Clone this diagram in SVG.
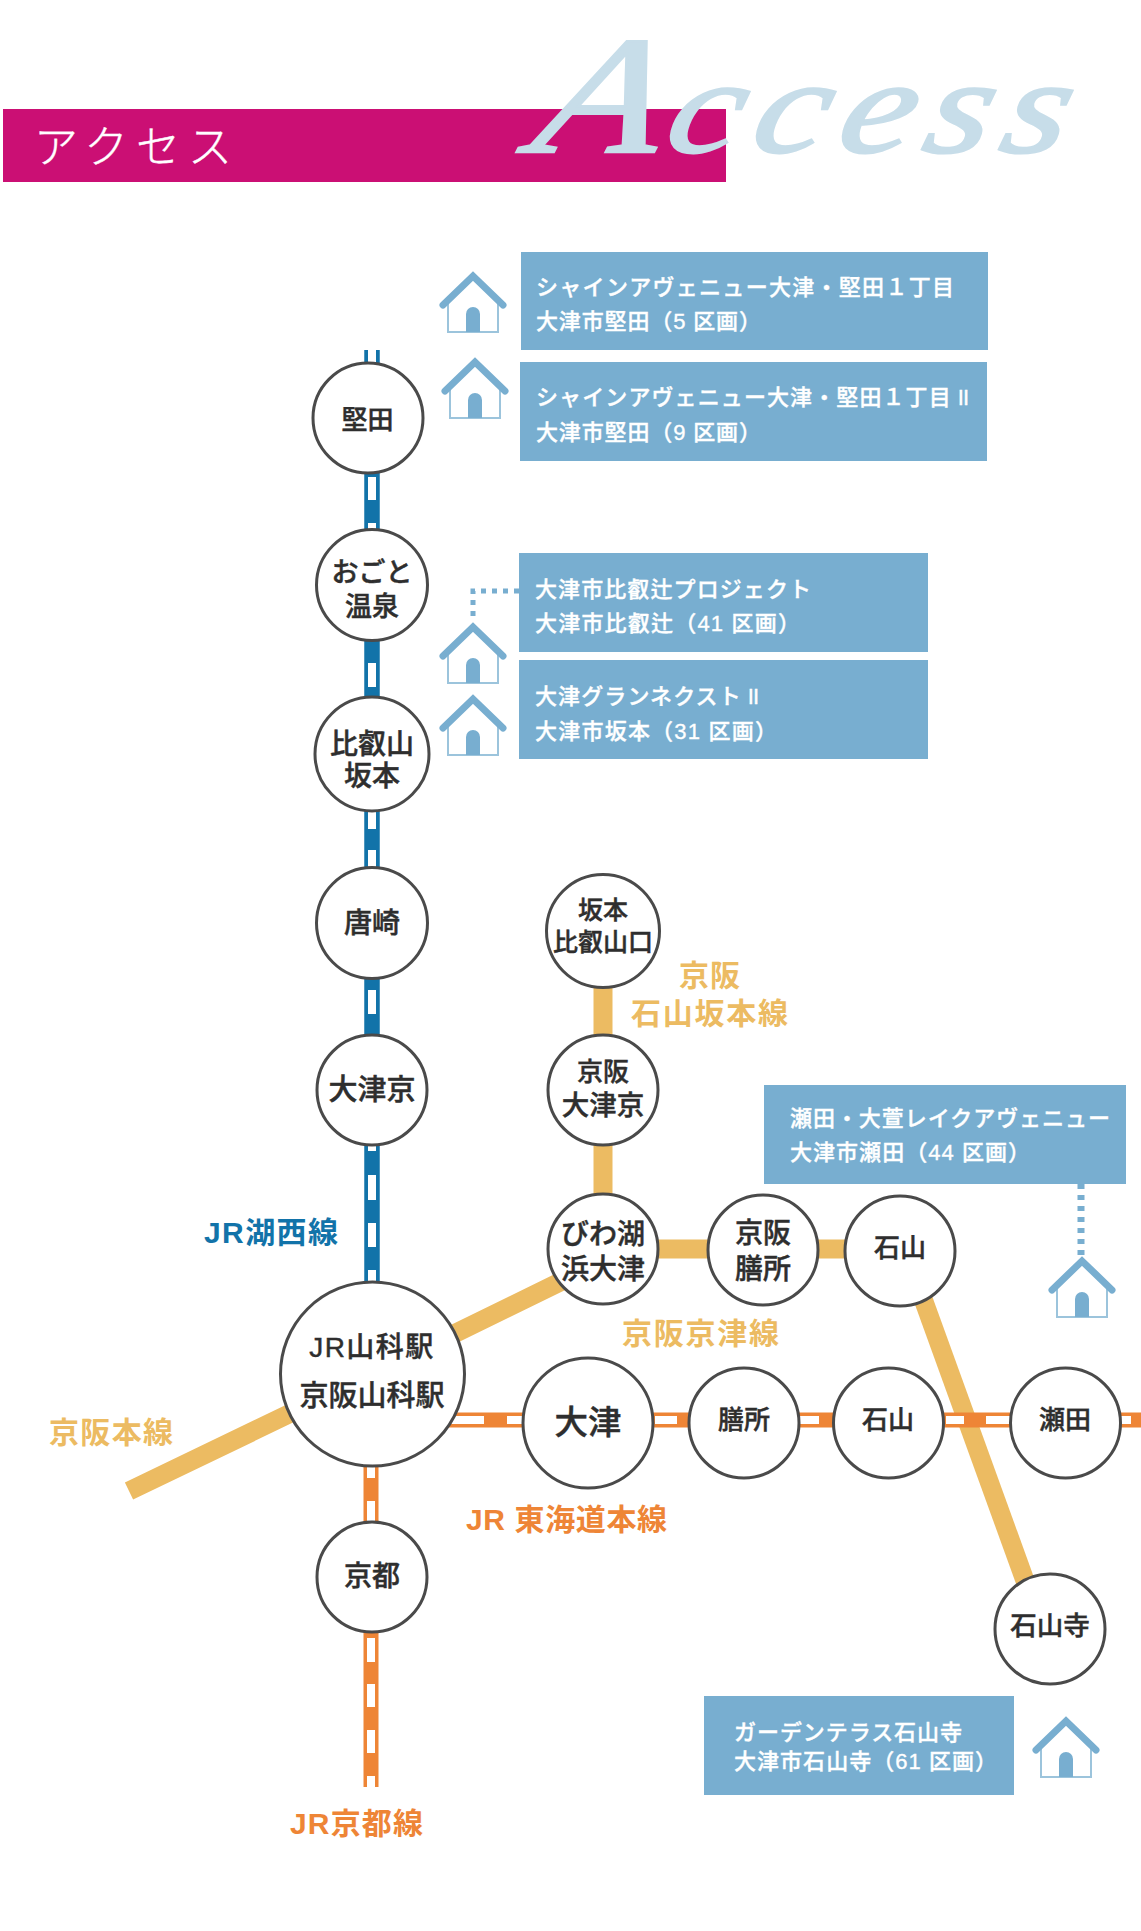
<svg xmlns="http://www.w3.org/2000/svg" width="1141" height="1931" viewBox="0 0 1141 1931">
<style>
text{font-family:"Liberation Sans","Noto Sans CJK JP",sans-serif}
.st{fill:#fff;stroke:#4a4a4a;stroke-width:3}
.lb{fill:#2e2e2e;stroke:#2e2e2e;stroke-width:.45;font-weight:500;text-anchor:middle}
.bx{fill:#78aed0}
.bt{fill:#fff;stroke:#fff;stroke-width:.35;font-size:22px;font-weight:500}
.ln{font-weight:700;font-size:30px}
.blue{stroke:#1273a9;fill:none}
.or{stroke:#ee8536;fill:none}
.ye{stroke:#ecbb62;fill:none;stroke-width:19}
.wh{stroke:#fff;fill:none;stroke-width:8}
.dot{stroke:#78aed0;fill:none;stroke-dasharray:5 6}
</style>
<defs>
<g id="house">
<path d="M-25 59V28L0 3L25 28V59Z" fill="#fff"/>
<path d="M-25 28V59H25V28" fill="none" stroke="#9cc4dc" stroke-width="2"/>
<path d="M-30 32L0 3L30 32" fill="none" stroke="#78aed0" stroke-width="7" stroke-linecap="round"/>
<path d="M-7 59V41a7 7 0 0 1 14 0V59Z" fill="#78aed0"/>
</g>
</defs>
<rect width="1141" height="1931" fill="#fff"/>
<g id="banner">
<rect x="3" y="109" width="723" height="73" fill="#cb0f74"/>
<text x="34" y="163" font-size="44" font-weight="300" fill="#fff" stroke="#fff" stroke-width=".4" textLength="198">アクセス</text>
<text transform="translate(528 152) scale(1.23 1) skewX(-12)" style="font-family:'Liberation Serif',serif;font-style:italic" fill="#c7dde9" stroke="#c7dde9" stroke-width="2.500" font-size="135" letter-spacing="10"><tspan font-size="168" letter-spacing="6">A</tspan>ccess</text>
</g>
<g id="connectors">
<path class="blue" stroke-width="15.500" d="M372 350V1330"/>
<path class="wh" d="M372 350V368M372 477V500M372 523V547M372 663V687M372 805V829M372 850V874M372 990V1014M372 1127V1151M372 1175V1200M372 1223V1247M372 1270V1294"/>
<path class="ye" d="M603 931V1249M603 1249H899"/>
<path class="ye" d="M603 1261L372 1374M372 1374L129 1491"/>
<path class="ye" d="M918 1285L1032 1600"/>
<path class="or" stroke-width="15" d="M372 1420H1141M371 1374V1787"/>
<path class="wh" d="M440 1420H484M507 1420H522M655 1420H677M799 1420H819M946 1420H964M986 1420H1010M1120 1420H1131M371 1450V1478M371 1501V1522M371 1638V1662M371 1684V1707M371 1730V1753M371 1776V1787"/>
<path class="dot" stroke-width="5" d="M519 591H473V622"/>
<path class="dot" stroke-width="7" d="M1081 1173V1256"/>
</g>
<g id="st-katata"><circle class="st" cx="368" cy="418" r="55"/><text class="lb" x="367.500" y="429" font-size="26">堅田</text></g>
<g id="st-ogoto"><circle class="st" cx="372" cy="585" r="55.500"/><text class="lb" x="372" y="582" font-size="27">おごと</text><text class="lb" x="372" y="616" font-size="27">温泉</text></g>
<g id="st-hieizan"><circle class="st" cx="372" cy="754" r="57"/><text class="lb" x="372" y="754" font-size="28">比叡山</text><text class="lb" x="372" y="786" font-size="28">坂本</text></g>
<g id="st-karasaki"><circle class="st" cx="372" cy="923" r="55.500"/><text class="lb" x="372" y="933" font-size="28">唐崎</text></g>
<g id="st-otsukyo"><circle class="st" cx="372" cy="1090" r="55"/><text class="lb" x="372" y="1100" font-size="29">大津京</text></g>
<g id="st-sakamoto"><circle class="st" cx="603" cy="931" r="56.500"/><text class="lb" x="603" y="919" font-size="25">坂本</text><text class="lb" x="603" y="951" font-size="25">比叡山口</text></g>
<g id="st-k-otsukyo"><circle class="st" cx="603" cy="1090" r="55"/><text class="lb" x="603" y="1081" font-size="26">京阪</text><text class="lb" x="603" y="1115" font-size="27.500">大津京</text></g>
<g id="st-biwako"><circle class="st" cx="603" cy="1249" r="55"/><text class="lb" x="603" y="1244" font-size="28">びわ湖</text><text class="lb" x="603" y="1279" font-size="28">浜大津</text></g>
<g id="st-k-zeze"><circle class="st" cx="763" cy="1250" r="55"/><text class="lb" x="763" y="1243" font-size="28">京阪</text><text class="lb" x="763" y="1279" font-size="28">膳所</text></g>
<g id="st-k-ishiyama"><circle class="st" cx="900" cy="1251" r="55"/><text class="lb" x="900" y="1257" font-size="26">石山</text></g>
<g id="st-yamashina"><circle class="st" cx="372.500" cy="1374" r="92"/><text class="lb" x="372" y="1357" font-size="28" letter-spacing="1.500">JR山科駅</text><text class="lb" x="372" y="1406" font-size="29">京阪山科駅</text></g>
<g id="st-otsu"><circle class="st" cx="588" cy="1423" r="65"/><text class="lb" x="588" y="1434" font-size="33.500">大津</text></g>
<g id="st-zeze"><circle class="st" cx="744" cy="1423" r="55"/><text class="lb" x="744" y="1429" font-size="26">膳所</text></g>
<g id="st-ishiyama"><circle class="st" cx="888.500" cy="1423" r="55"/><text class="lb" x="888" y="1429" font-size="26">石山</text></g>
<g id="st-seta"><circle class="st" cx="1065.500" cy="1423" r="55"/><text class="lb" x="1065" y="1429" font-size="26">瀬田</text></g>
<g id="st-kyoto"><circle class="st" cx="372" cy="1577" r="55"/><text class="lb" x="372" y="1586" font-size="28">京都</text></g>
<g id="st-ishiyamadera"><circle class="st" cx="1050" cy="1629" r="55"/><text class="lb" x="1050" y="1635" font-size="26.500">石山寺</text></g>
<g id="labels">
<text class="ln" x="204" y="1243" fill="#1273a9" textLength="134">JR湖西線</text>
<text class="ln" x="679" y="986" fill="#ecbb62" font-size="31" textLength="61">京阪</text>
<text class="ln" x="631" y="1024" fill="#ecbb62" font-size="31" textLength="157">石山坂本線</text>
<text class="ln" x="622" y="1344" fill="#ecbb62" font-size="31" textLength="157">京阪京津線</text>
<text class="ln" x="49" y="1443" fill="#ecbb62" font-size="31" textLength="124">京阪本線</text>
<text class="ln" x="466" y="1530" fill="#ee8536" textLength="201">JR 東海道本線</text>
<text class="ln" x="290" y="1834" fill="#ee8536" textLength="133">JR京都線</text>
</g>
<g id="box1"><rect class="bx" x="521" y="252" width="467" height="98"/><text class="bt" x="536" y="295" textLength="418">シャインアヴェニュー大津・堅田１丁目</text><text class="bt" x="536" y="329" textLength="225">大津市堅田（5 区画）</text></g>
<g id="box2"><rect class="bx" x="520" y="362" width="467" height="99"/><text class="bt" x="536" y="405" letter-spacing="1.100">シャインアヴェニュー大津・堅田１丁目<tspan dx="6" letter-spacing="-1">II</tspan></text><text class="bt" x="536" y="440" textLength="225">大津市堅田（9 区画）</text></g>
<g id="box3"><rect class="bx" x="519" y="553" width="409" height="99"/><text class="bt" x="535" y="597" textLength="276">大津市比叡辻プロジェクト</text><text class="bt" x="535" y="631" textLength="265">大津市比叡辻（41 区画）</text></g>
<g id="box4"><rect class="bx" x="519" y="660" width="409" height="99"/><text class="bt" x="535" y="704" letter-spacing="1.100">大津グランネクスト<tspan dx="6" letter-spacing="-1">II</tspan></text><text class="bt" x="535" y="739" textLength="242">大津市坂本（31 区画）</text></g>
<g id="box5"><rect class="bx" x="764" y="1085" width="362" height="99"/><text class="bt" x="790" y="1126" textLength="320">瀬田・大萱レイクアヴェニュー</text><text class="bt" x="790" y="1160" textLength="240">大津市瀬田（44 区画）</text></g>
<g id="box6"><rect class="bx" x="704" y="1696" width="310" height="99"/><text class="bt" x="734" y="1740" textLength="228" stroke-width="0">ガーデンテラス石山寺</text><text class="bt" x="734" y="1769" textLength="263">大津市石山寺（61 区画）</text></g>
<g id="house1"><use href="#house" x="473" y="273"/></g>
<g id="house2"><use href="#house" x="475" y="359"/></g>
<g id="house3"><use href="#house" x="473" y="624"/></g>
<g id="house4"><use href="#house" x="473" y="696"/></g>
<g id="house5"><use href="#house" x="1082" y="1258"/></g>
<g id="house6"><use href="#house" x="1066" y="1718"/></g>
</svg>
